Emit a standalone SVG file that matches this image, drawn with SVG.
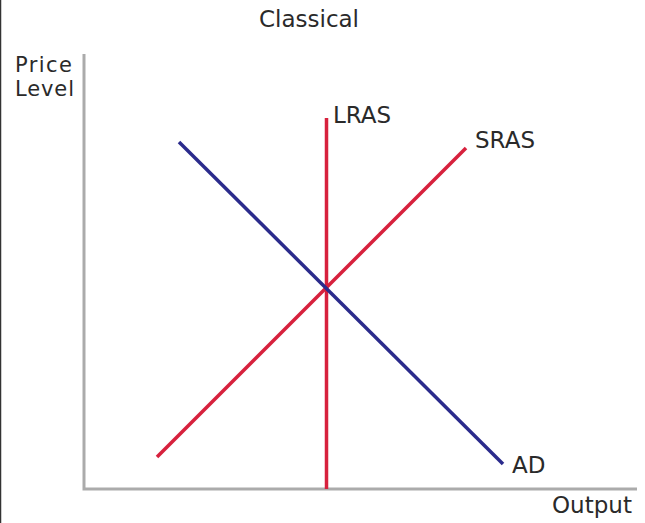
<svg xmlns="http://www.w3.org/2000/svg" width="645" height="523" viewBox="0 0 645 523">
<style>
text{font-family:"DejaVu Sans","Liberation Sans",sans-serif;font-size:23px;fill:#2a2a2a}
.small{font-size:21px}
.axis{stroke:#ababab;stroke-width:3;fill:none}
.red{stroke:#d7213d;stroke-width:3.5;fill:none}
.blue{stroke:#2b2b8c;stroke-width:3.5;fill:none}
</style>
<rect x="0" y="0" width="645" height="523" fill="#ffffff"/>
<line x1="0.5" y1="0" x2="0.5" y2="523" stroke="#333" stroke-width="1.5"/>
<g id="title"><text x="309" y="27" text-anchor="middle">Classical</text></g>
<g id="axes">
<polyline class="axis" points="84,54 84,489 637,489"/>
<text class="small" x="15" y="72" textLength="57">Price</text>
<text class="small" x="15" y="96" textLength="59">Level</text>
<text x="552" y="513">Output</text>
</g>
<g id="connectors">
<line id="lras" class="red" x1="326.5" y1="118" x2="326.5" y2="489"/>
<line id="sras" class="red" x1="157" y1="457" x2="466" y2="148"/>
<line id="ad" class="blue" x1="179" y1="142" x2="503" y2="464"/>
</g>
<g id="labels">
<text x="333" y="123">LRAS</text>
<text x="475" y="148">SRAS</text>
<text x="512" y="473">AD</text>
</g>
</svg>
